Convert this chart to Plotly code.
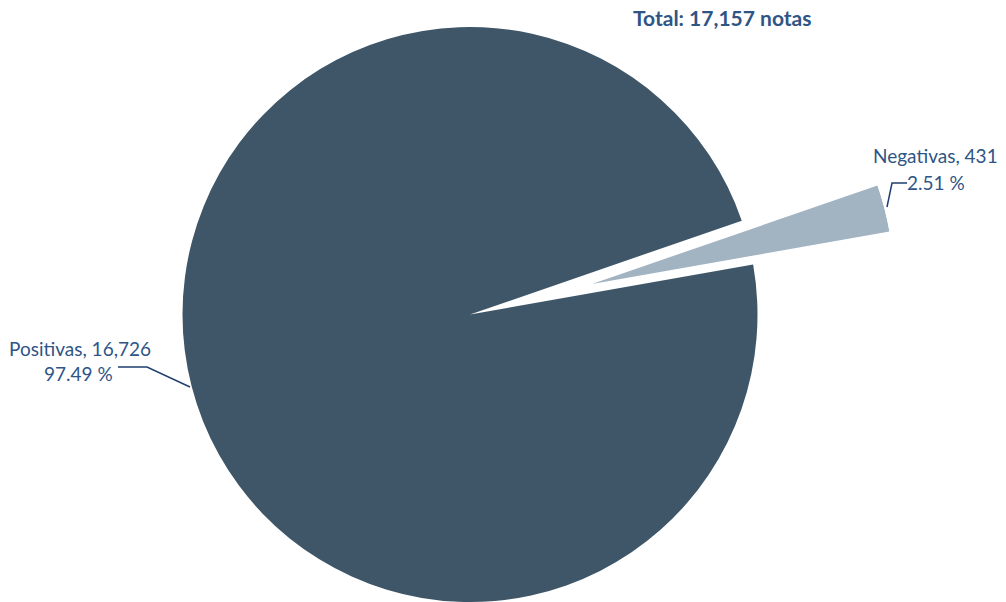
import plotly.graph_objects as go

# Data
labels = ["Negativas", "Positivas"]
values = [431, 16726]
total = sum(values)
title_text = "Total: 17,157 notas"

W, H = 1006, 602
TEXT_COLOR = "#2f5585"
FONT = "Lato"
START_DEG = 10.0  # angle (deg, ccw from 3 o'clock) where the Negativas slice begins

pct = [v / total * 100 for v in values]
neg_width = 360.0 * values[0] / total

fig = go.Figure()

# main pie (negative slice left empty, it's drawn exploded below)
fig.add_trace(go.Pie(
    labels=labels, values=values, sort=False,
    direction="counterclockwise", rotation=90 - START_DEG - neg_width,
    marker=dict(colors=["rgba(0,0,0,0)", "#3e5668"], line=dict(width=0)),
    textinfo="none", hoverinfo="label+value+percent",
    domain=dict(x=[182.5 / W, 757.5 / W], y=[0, (H - 27) / H]),
    showlegend=False,
))

# exploded Negativas slice as a polar wedge
fig.add_trace(go.Barpolar(
    r=[1], theta=[START_DEG + neg_width / 2], width=[neg_width],
    marker=dict(color="#a2b3c2", line=dict(width=0)),
    name=labels[0], hovertext=[f"{labels[0]}: {values[0]:,}"], hoverinfo="text",
    subplot="polar", showlegend=False,
))

def px(x):
    return x / W

def py(y):
    return 1 - y / H

# exploded wedge apex and radius (pixels)
AX, AY, R = 592, 284, 302

annotations = [
    dict(x=px(722), y=py(18), text=f"<b>{title_text}</b>", showarrow=False,
         xanchor="center", yanchor="middle",
         font=dict(family=FONT, size=21, color=TEXT_COLOR)),
    dict(x=px(935), y=py(156), text=f"{labels[0]}, {values[0]:,}", showarrow=False,
         xanchor="center", yanchor="middle",
         font=dict(family=FONT, size=19, color=TEXT_COLOR)),
    dict(x=px(936), y=py(182), text=f"{pct[0]:.2f} %", showarrow=False,
         xanchor="center", yanchor="middle",
         font=dict(family=FONT, size=19, color=TEXT_COLOR)),
    dict(x=px(80), y=py(348), text=f"{labels[1]}, {values[1]:,}", showarrow=False,
         xanchor="center", yanchor="middle",
         font=dict(family=FONT, size=19, color=TEXT_COLOR)),
    dict(x=px(78), y=py(373), text=f"{pct[1]:.2f} %", showarrow=False,
         xanchor="center", yanchor="middle",
         font=dict(family=FONT, size=19, color=TEXT_COLOR)),
]

LINE = dict(color="#1f3f6e", width=1.5)
shapes = [
    dict(type="path", xref="paper", yref="paper",
         path=f"M {px(887)} {py(207)} L {px(892)} {py(183)} L {px(907)} {py(183)}",
         line=LINE),
    dict(type="path", xref="paper", yref="paper",
         path=f"M {px(190)} {py(387)} L {px(147)} {py(367)} L {px(118)} {py(367)}",
         line=LINE),
]

fig.update_layout(
    width=W, height=H,
    margin=dict(l=0, r=0, t=0, b=0),
    paper_bgcolor="white", plot_bgcolor="white",
    annotations=annotations, shapes=shapes,
    showlegend=False,
    polar=dict(
        domain=dict(x=[px(AX), px(AX + R)], y=[py(AY), py(AY - R / 2)]),
        sector=[0, 30],
        bgcolor="rgba(0,0,0,0)",
        radialaxis=dict(range=[0, 1], visible=False, showgrid=False, showline=False),
        angularaxis=dict(visible=False, showgrid=False, showline=False,
                         direction="counterclockwise", rotation=0),
    ),
)

fig.write_html("out.html", config={"displayModeBar": False},
               post_script="document.body.style.margin='0px';")
